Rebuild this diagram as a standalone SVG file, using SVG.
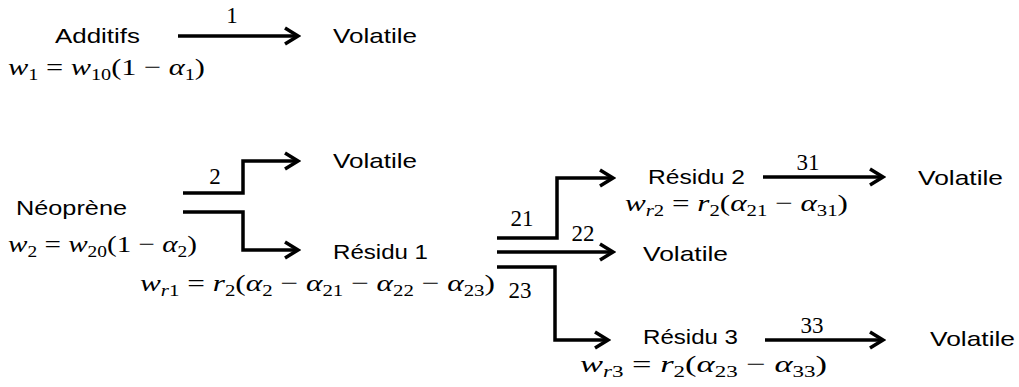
<svg xmlns="http://www.w3.org/2000/svg" width="1019" height="387" viewBox="0 0 1019 387">
<style>
.t{font-family:"Liberation Sans",Arial,sans-serif;font-size:21px;fill:#000}
.m{font-family:"Liberation Serif","Times New Roman",serif;font-size:24px;fill:#000}
.i{font-style:italic}
.s{font-size:16px}
.n{font-family:"Liberation Serif","Times New Roman",serif;font-size:23px;fill:#000}
.c{fill:none;stroke:#000;stroke-width:3.5;stroke-linejoin:miter}
</style>
<defs>
<marker id="ah" viewBox="0 0 18 20" refX="15" refY="10" markerWidth="18" markerHeight="20" markerUnits="userSpaceOnUse" orient="auto">
<path d="M2,2 L15,10 L2,18" fill="none" stroke="#000" stroke-width="3.5"/>
</marker>
</defs>
<rect width="1019" height="387" fill="#fff"/>
<g id="connectors">
<path class="c" d="M178,36 H298" marker-end="url(#ah)"/>
<path class="c" d="M183,193 H243 V161 H298" marker-end="url(#ah)"/>
<path class="c" d="M183,212 H243 V250 H298" marker-end="url(#ah)"/>
<path class="c" d="M497,238 H557 V178 H613" marker-end="url(#ah)"/>
<path class="c" d="M497,252 H613" marker-end="url(#ah)"/>
<path class="c" d="M497,267 H555 V340 H608" marker-end="url(#ah)"/>
<path class="c" d="M763,177 H883" marker-end="url(#ah)"/>
<path class="c" d="M765,340 H883" marker-end="url(#ah)"/>
<text class="n" x="232" y="23" text-anchor="middle">1</text>
<text class="n" x="215" y="184" text-anchor="middle">2</text>
<text class="n" x="522" y="226" text-anchor="middle">21</text>
<text class="n" x="583" y="241" text-anchor="middle">22</text>
<text class="n" x="520" y="298" text-anchor="middle">23</text>
<text class="n" x="808" y="170" text-anchor="middle">31</text>
<text class="n" x="812" y="333" text-anchor="middle">33</text>
</g>
<g id="additifs">
<text class="t" x="55" y="43" textLength="85" lengthAdjust="spacingAndGlyphs">Additifs</text>
<text class="m" x="8" y="75" textLength="197" lengthAdjust="spacingAndGlyphs"><tspan class="i">w</tspan><tspan class="s" dy="5">1</tspan><tspan dy="-5"> = </tspan><tspan class="i">w</tspan><tspan class="s" dy="5">10</tspan><tspan dy="-5">(1 − </tspan><tspan class="i">α</tspan><tspan class="s" dy="5">1</tspan><tspan dy="-5">)</tspan></text>
</g>
<g id="volatile1">
<text class="t" x="333" y="43" textLength="84" lengthAdjust="spacingAndGlyphs">Volatile</text>
</g>
<g id="neoprene">
<text class="t" x="16" y="215" textLength="111" lengthAdjust="spacingAndGlyphs">Néoprène</text>
<text class="m" x="8" y="252" textLength="189" lengthAdjust="spacingAndGlyphs"><tspan class="i">w</tspan><tspan class="s" dy="5">2</tspan><tspan dy="-5"> = </tspan><tspan class="i">w</tspan><tspan class="s" dy="5">20</tspan><tspan dy="-5">(1 − </tspan><tspan class="i">α</tspan><tspan class="s" dy="5">2</tspan><tspan dy="-5">)</tspan></text>
</g>
<g id="volatile2">
<text class="t" x="333" y="168" textLength="84" lengthAdjust="spacingAndGlyphs">Volatile</text>
</g>
<g id="residu1">
<text class="t" x="333" y="259" textLength="95" lengthAdjust="spacingAndGlyphs">Résidu 1</text>
<text class="m" x="140" y="291" textLength="355" lengthAdjust="spacingAndGlyphs"><tspan class="i">w</tspan><tspan class="s i" dy="5">r</tspan><tspan class="s">1</tspan><tspan dy="-5"> = </tspan><tspan class="i">r</tspan><tspan class="s" dy="5">2</tspan><tspan dy="-5">(</tspan><tspan class="i">α</tspan><tspan class="s" dy="5">2</tspan><tspan dy="-5"> − </tspan><tspan class="i">α</tspan><tspan class="s" dy="5">21</tspan><tspan dy="-5"> − </tspan><tspan class="i">α</tspan><tspan class="s" dy="5">22</tspan><tspan dy="-5"> − </tspan><tspan class="i">α</tspan><tspan class="s" dy="5">23</tspan><tspan dy="-5">)</tspan></text>
</g>
<g id="residu2">
<text class="t" x="648" y="184" textLength="97" lengthAdjust="spacingAndGlyphs">Résidu 2</text>
<text class="m" x="625" y="211" textLength="223" lengthAdjust="spacingAndGlyphs"><tspan class="i">w</tspan><tspan class="s i" dy="5">r</tspan><tspan class="s">2</tspan><tspan dy="-5"> = </tspan><tspan class="i">r</tspan><tspan class="s" dy="5">2</tspan><tspan dy="-5">(</tspan><tspan class="i">α</tspan><tspan class="s" dy="5">21</tspan><tspan dy="-5"> − </tspan><tspan class="i">α</tspan><tspan class="s" dy="5">31</tspan><tspan dy="-5">)</tspan></text>
</g>
<g id="volatile3">
<text class="t" x="918" y="185" textLength="85" lengthAdjust="spacingAndGlyphs">Volatile</text>
</g>
<g id="volatile4">
<text class="t" x="643" y="261" textLength="85" lengthAdjust="spacingAndGlyphs">Volatile</text>
</g>
<g id="residu3">
<text class="t" x="643" y="344" textLength="95" lengthAdjust="spacingAndGlyphs">Résidu 3</text>
<text class="m" x="580" y="372" textLength="247" lengthAdjust="spacingAndGlyphs"><tspan class="i">w</tspan><tspan class="s i" dy="5">r</tspan><tspan class="s">3</tspan><tspan dy="-5"> = </tspan><tspan class="i">r</tspan><tspan class="s" dy="5">2</tspan><tspan dy="-5">(</tspan><tspan class="i">α</tspan><tspan class="s" dy="5">23</tspan><tspan dy="-5"> − </tspan><tspan class="i">α</tspan><tspan class="s" dy="5">33</tspan><tspan dy="-5">)</tspan></text>
</g>
<g id="volatile5">
<text class="t" x="930" y="346" textLength="85" lengthAdjust="spacingAndGlyphs">Volatile</text>
</g>
</svg>
